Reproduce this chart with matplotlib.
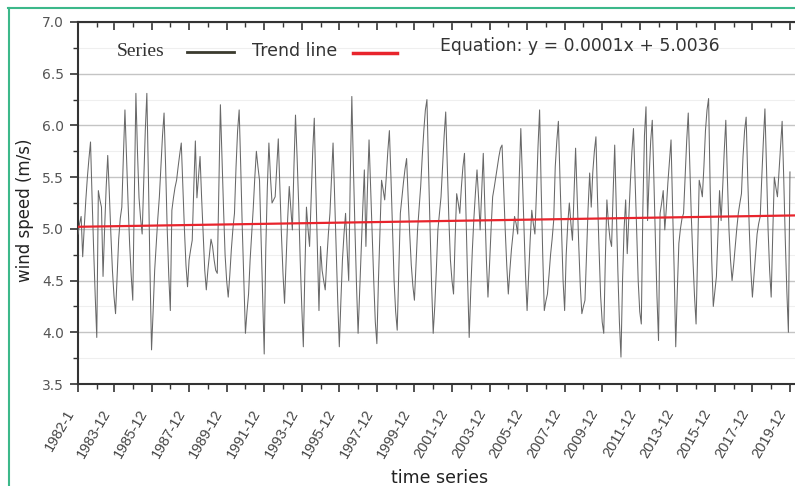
import matplotlib.pyplot as plt
import numpy as np
from matplotlib.lines import Line2D
from matplotlib.transforms import ScaledTranslation

# monthly mean wind speed (m/s), one row per year, 1982 .. 2019
wind_1982_1990 = [
    4.95, 5.05, 5.12, 4.73, 5.02, 5.28, 5.50, 5.68, 5.84, 5.30, 4.80, 4.35,
    3.95, 5.37, 5.28, 5.21, 4.54, 5.00, 5.40, 5.71, 5.35, 4.95, 4.60, 4.35,
    4.18, 4.55, 4.90, 5.10, 5.21, 5.70, 6.15, 5.70, 5.25, 4.85, 4.55, 4.31,
    5.30, 6.31, 5.75, 5.30, 5.10, 4.95, 5.45, 5.95, 6.31, 5.50, 4.60, 3.83,
    4.20, 4.60, 4.85, 5.10, 5.31, 5.60, 5.90, 6.12, 5.60, 5.00, 4.55, 4.21,
    5.18, 5.30, 5.40, 5.47, 5.60, 5.72, 5.83, 5.40, 5.00, 4.65, 4.44, 4.70,
    4.80, 4.89, 5.40, 5.85, 5.30, 5.50, 5.70, 5.30, 4.95, 4.60, 4.41, 4.60,
    4.75, 4.90, 4.83, 4.70, 4.60, 4.57, 5.40, 6.20, 5.70, 5.20, 4.75, 4.50,
    4.34, 4.55, 4.80, 5.00, 5.15, 5.60, 5.95, 6.15, 5.60, 5.00, 4.50, 3.99,
]
wind_1991_2000 = [
    4.20, 4.37, 4.70, 4.95, 5.20, 5.50, 5.75, 5.60, 5.47, 4.90, 4.30, 3.79,
    4.80, 5.40, 5.83, 5.50, 5.25, 5.28, 5.31, 5.60, 5.87, 5.40, 4.95, 4.57,
    4.28, 4.70, 5.10, 5.41, 5.20, 4.99, 5.60, 6.10, 5.70, 5.25, 4.70, 4.25,
    3.86, 4.60, 5.21, 5.00, 4.83, 5.30, 5.75, 6.07, 5.40, 4.80, 4.21, 4.83,
    4.60, 4.50, 4.41, 4.70, 4.95, 5.15, 5.50, 5.83, 5.30, 4.80, 4.30, 3.86,
    4.30, 4.70, 4.95, 5.15, 4.80, 4.50, 5.50, 6.28, 5.60, 5.00, 4.45, 3.99,
    4.40, 4.80, 5.20, 5.57, 4.83, 5.40, 5.86, 5.40, 4.95, 4.50, 4.10, 3.89,
    4.50, 5.00, 5.47, 5.38, 5.28, 5.50, 5.75, 5.95, 5.50, 5.00, 4.50, 4.20,
    4.02, 4.60, 5.15, 5.30, 5.45, 5.58, 5.68, 5.30, 4.95, 4.65, 4.45, 4.31,
    4.65, 4.99, 5.20, 5.41, 5.70, 5.95, 6.15, 6.25, 5.60, 5.00, 4.45, 3.99,
]
wind_2001_2010 = [
    4.25, 4.60, 4.99, 5.15, 5.31, 5.60, 5.90, 6.13, 5.60, 5.10, 4.70, 4.50,
    4.37, 4.90, 5.34, 5.25, 5.15, 5.40, 5.60, 5.73, 5.10, 4.50, 3.95, 4.40,
    4.79, 5.10, 5.35, 5.57, 5.30, 4.99, 5.35, 5.73, 5.20, 4.70, 4.34, 4.65,
    5.00, 5.31, 5.40, 5.50, 5.60, 5.70, 5.78, 5.81, 5.40, 5.00, 4.65, 4.37,
    4.60, 4.80, 4.95, 5.12, 5.05, 4.95, 5.50, 5.97, 5.50, 5.00, 4.55, 4.21,
    4.55, 4.90, 5.18, 5.05, 4.95, 5.35, 5.80, 6.15, 5.40, 4.75, 4.21, 4.30,
    4.37, 4.55, 4.75, 4.90, 5.08, 5.60, 5.85, 6.04, 5.50, 5.00, 4.50, 4.21,
    4.75, 5.05, 5.25, 5.05, 4.89, 5.35, 5.78, 5.30, 4.85, 4.45, 4.18, 4.25,
    4.31, 4.75, 5.20, 5.54, 5.21, 5.55, 5.75, 5.89, 5.30, 4.80, 4.35, 4.10,
    3.99, 4.70, 5.28, 5.05, 4.90, 4.83, 5.35, 5.81, 5.20, 4.60, 4.10, 3.76,
]
wind_2011_2019 = [
    4.50, 5.00, 5.28, 4.76, 5.10, 5.45, 5.75, 5.97, 5.50, 5.00, 4.50, 4.20,
    4.08, 5.20, 5.90, 6.18, 5.08, 5.50, 5.85, 6.05, 5.50, 4.90, 4.35, 3.92,
    5.15, 5.25, 5.37, 4.99, 5.20, 5.45, 5.65, 5.86, 5.20, 4.60, 3.86, 4.40,
    4.86, 5.00, 5.10, 5.15, 5.50, 5.85, 6.12, 5.60, 5.10, 4.70, 4.35, 4.08,
    4.80, 5.47, 5.40, 5.31, 5.60, 5.95, 6.15, 6.26, 5.40, 4.70, 4.25, 4.40,
    4.54, 4.95, 5.37, 5.08, 5.40, 5.75, 6.05, 5.50, 5.00, 4.70, 4.50, 4.65,
    4.83, 5.00, 5.15, 5.25, 5.34, 5.70, 5.95, 6.08, 5.50, 5.00, 4.60, 4.34,
    4.55, 4.75, 4.95, 5.05, 5.12, 5.50, 5.85, 6.16, 5.60, 5.00, 4.60, 4.34,
    4.95, 5.50, 5.40, 5.31, 5.55, 5.80, 6.04, 5.50, 4.90, 4.40, 4.00, 5.55,
]
wind = wind_1982_1990 + wind_1991_2000 + wind_2001_2010 + wind_2011_2019

# trend line as it appears in the figure (start / end value)
trend_x = [0, 459]
trend_y = [5.02, 5.13]

tick_labels = ['1982-1'] + ['%d-12' % y for y in range(1983, 2020, 2)]

fig = plt.figure(figsize=(7.95, 4.86), dpi=100)
ax = fig.add_axes([78/795, 1 - 384/486, 719/795, 362/486])

x = np.arange(len(wind))
ax.plot(x, wind, color='#686868', lw=0.75, zorder=3)
ax.plot(trend_x, trend_y, color='#e8242c', lw=1.6, zorder=4)

ax.set_xlim(0, 459.5)
ax.set_ylim(3.5, 7.0)

major = [0] + [23 + 24*k for k in range(19)]
ax.set_xticks(major)
ax.set_xticklabels(tick_labels, rotation=60, ha='right', va='center',
                   rotation_mode='anchor', fontsize=10.5, color='#444444',
                   family='Liberation Sans')
ax.set_xticks([m + 12 for m in major[:-1]], minor=True)
ax.set_yticks(np.arange(3.5, 7.01, 0.5))
ax.set_yticklabels(['%.1f' % v for v in np.arange(3.5, 7.01, 0.5)],
                   fontsize=10, color='#555555', family='DejaVu Sans')
ax.set_yticks(np.arange(3.75, 7.0, 0.5), minor=True)

ax.tick_params(axis='both', which='major', length=6, width=1.2, color='#333333', direction='out')
ax.tick_params(axis='both', which='minor', length=3.5, width=1.0, color='#333333', direction='out')
ax.tick_params(axis='x', top=True, which='both')
ax.tick_params(axis='x', which='major', pad=13)
ax.tick_params(axis='y', which='major', pad=4)
for t in ax.xaxis.get_major_ticks() + ax.xaxis.get_minor_ticks():
    t.tick2line.set_marker(3)  # top ticks point down into the plot

shift = ScaledTranslation(-7/100, 0, fig.dpi_scale_trans)
for lab in ax.get_xticklabels():
    lab.set_transform(lab.get_transform() + shift)

ax.grid(axis='y', which='major', color='#c4c4c4', lw=1.0, zorder=0)
ax.grid(axis='y', which='minor', color='#efefef', lw=0.8, zorder=0)

for side in ['left', 'bottom', 'top']:
    ax.spines[side].set_color('#333333')
    ax.spines[side].set_linewidth(1.5)
ax.spines['right'].set_visible(False)

ax.set_ylabel('wind speed (m/s)', fontsize=12, color='#222222', family='DejaVu Sans')
ax.yaxis.set_label_coords(-44/719, 0.48)
fig.text(440/795, 1 - 478/486, 'time series', fontsize=12.5, color='#222222',
         family='DejaVu Sans', ha='center', va='center')

# legend drawn like the original header row
fig.text(117/795, 1 - 52/486, 'Series', fontsize=14, family='Liberation Serif',
         color='#333333', va='center')
fig.add_artist(Line2D([187/795, 234/795], [1 - 52/486, 1 - 52/486], color='#3a3a2e', lw=2))
fig.text(252/795, 1 - 51/486, 'Trend line', fontsize=12.5, family='DejaVu Sans',
         color='#333333', va='center')
fig.add_artist(Line2D([353/795, 397/795], [1 - 53/486, 1 - 53/486], color='#e8242c', lw=2.5))
fig.text(440/795, 1 - 46/486, 'Equation: y = 0.0001x + 5.0036', fontsize=12.4,
         family='DejaVu Sans', color='#333333', va='center')

# green frame around the picture
fig.add_artist(Line2D([8.5/795, 8.5/795], [0, 1 - 8/486], color='#3cb88a', lw=1.5))
fig.add_artist(Line2D([8/795, 1], [1 - 8.5/486, 1 - 8.5/486], color='#3cb88a', lw=1.5))

fig.savefig('out.png', dpi=100)
